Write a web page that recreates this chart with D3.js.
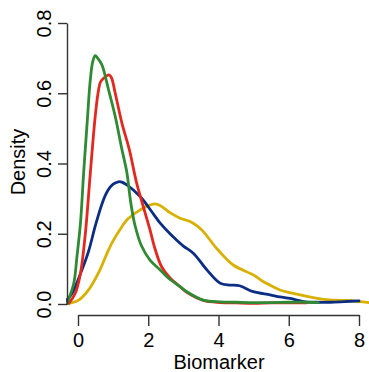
<!DOCTYPE html>
<html>
<head>
<meta charset="utf-8">
<script src="https://cdn.jsdelivr.net/npm/d3@7"></script>
<style>
  html, body { margin: 0; padding: 0; background: #fff; }
  svg { display: block; }
  text { font-family: "Liberation Sans", Arial, Helvetica, sans-serif; }
</style>
</head>
<body>
<svg id="chart" width="369" height="372"></svg>
<script>
// ---- Data ----
const seriesNames = ["yellow", "blue", "red", "green"];
const seriesColors = ["#d8b000", "#0b2d83", "#e3281f", "#2f8a34"];

const yellowPts = [[-0.36,0.0],[0.02,0.011],[0.3,0.04],[0.59,0.09],[0.87,0.154],[1.01,0.182],[1.25,0.22],[1.39,0.239],[1.77,0.268],[2.0,0.28],[2.19,0.285],[2.35,0.28],[2.62,0.26],[2.91,0.244],[3.19,0.235],[3.4,0.222],[3.57,0.206],[3.95,0.158],[4.42,0.111],[4.99,0.083],[5.27,0.064],[5.5,0.052],[5.75,0.04],[6.23,0.028],[6.98,0.013],[7.3,0.011],[7.65,0.01],[8.0,0.007],[8.3,0.004]];
const bluePts = [[-0.37,0.006],[-0.17,0.03],[0.11,0.097],[0.3,0.15],[0.5,0.225],[0.7,0.29],[0.85,0.323],[1.0,0.341],[1.15,0.348],[1.25,0.347],[1.39,0.339],[1.77,0.306],[2.15,0.256],[2.34,0.23],[2.62,0.2],[3.0,0.165],[3.29,0.144],[3.67,0.097],[4.05,0.059],[4.33,0.054],[4.6,0.052],[4.99,0.035],[5.47,0.026],[5.75,0.02],[6.04,0.016],[6.42,0.007],[6.8,0.005],[7.18,0.005],[7.6,0.007],[8.0,0.009]];
const redPts = [[-0.26,0.002],[-0.08,0.03],[0.07,0.087],[0.21,0.201],[0.35,0.372],[0.49,0.534],[0.57,0.6],[0.64,0.632],[0.72,0.642],[0.8,0.648],[0.88,0.652],[0.95,0.645],[1.06,0.6],[1.25,0.515],[1.46,0.44],[1.67,0.344],[1.86,0.277],[2.05,0.211],[2.19,0.158],[2.38,0.106],[2.62,0.074],[2.91,0.049],[3.1,0.033],[3.57,0.01],[4.05,0.004],[4.5,0.003],[5.0,0.002],[5.5,0.003],[6.0,0.003],[6.5,0.003]];
const greenPts = [[-0.31,0.002],[-0.12,0.059],[-0.03,0.135],[0.07,0.23],[0.16,0.372],[0.26,0.515],[0.35,0.638],[0.42,0.69],[0.49,0.707],[0.56,0.7],[0.68,0.681],[0.87,0.61],[1.06,0.534],[1.24,0.445],[1.39,0.375],[1.5,0.29],[1.62,0.225],[1.81,0.165],[2.05,0.125],[2.34,0.097],[2.57,0.074],[2.91,0.049],[3.1,0.035],[3.57,0.011],[4.05,0.006],[4.5,0.005],[5.0,0.004],[5.5,0.004],[6.0,0.005],[6.5,0.005],[6.84,0.004]];

const xTicks = [0, 2, 4, 6, 8];
const yTicks = [0.0, 0.2, 0.4, 0.6, 0.8];
const xTitle = "Biomarker";
const yTitle = "Density";

// ---- Layout ----
const svg = d3.select("#chart");
const x = d3.scaleLinear().domain([0, 8]).range([78, 359]);
const y = d3.scaleLinear().domain([0, 0.8]).range([304, 23]);

svg.append("defs").append("clipPath").attr("id", "plotclip")
  .append("rect").attr("x", 66).attr("y", 10).attr("width", 303).attr("height", 300);

const line = d3.line().x(d => x(d[0])).y(d => y(Math.max(0, d[1]))).curve(d3.curveCatmullRom.alpha(0.5));

const allSeries = [yellowPts, bluePts, redPts, greenPts];
const g = svg.append("g").attr("clip-path", "url(#plotclip)");
allSeries.forEach((pts, i) => {
  g.append("path")
    .attr("d", line(pts))
    .attr("fill", "none")
    .attr("stroke", seriesColors[i])
    .attr("stroke-width", 2.8)
    .attr("stroke-linejoin", "round")
    .attr("stroke-linecap", "round");
});

// ---- Axes ----
const axisColor = "#333";
const yAxis = svg.append("g").attr("transform", "translate(67,0)")
  .call(d3.axisLeft(y).tickValues(yTicks).tickSize(9).tickSizeOuter(0).tickFormat(d3.format(".1f")));
yAxis.select(".domain").attr("stroke", axisColor).attr("stroke-width", 1.4);
yAxis.selectAll(".tick line").attr("stroke", axisColor).attr("stroke-width", 1.4);
yAxis.selectAll(".tick text")
  .attr("transform", "rotate(-90)")
  .attr("x", 0).attr("y", -16).attr("dy", 0)
  .attr("text-anchor", "middle")
  .attr("fill", "#000")
  .style("font-size", "20px")
  .style("font-family", "'Liberation Sans', Arial, Helvetica, sans-serif");

const xAxis = svg.append("g").attr("transform", "translate(0,315)")
  .call(d3.axisBottom(x).tickValues(xTicks).tickSize(11).tickSizeOuter(0).tickFormat(d3.format("d")));
xAxis.select(".domain").attr("stroke", axisColor).attr("stroke-width", 1.4);
xAxis.selectAll(".tick line").attr("stroke", axisColor).attr("stroke-width", 1.4);
xAxis.selectAll(".tick text")
  .attr("y", 32).attr("dy", 0)
  .attr("fill", "#000")
  .style("font-size", "20px")
  .style("font-family", "'Liberation Sans', Arial, Helvetica, sans-serif");

// ---- Titles ----
svg.append("text")
  .attr("x", 219).attr("y", 369)
  .attr("text-anchor", "middle")
  .style("font-size", "20px")
  .text(xTitle);

svg.append("text")
  .attr("transform", "translate(25,162) rotate(-90)")
  .attr("text-anchor", "middle")
  .style("font-size", "20px")
  .text(yTitle);
</script>
</body>
</html>
